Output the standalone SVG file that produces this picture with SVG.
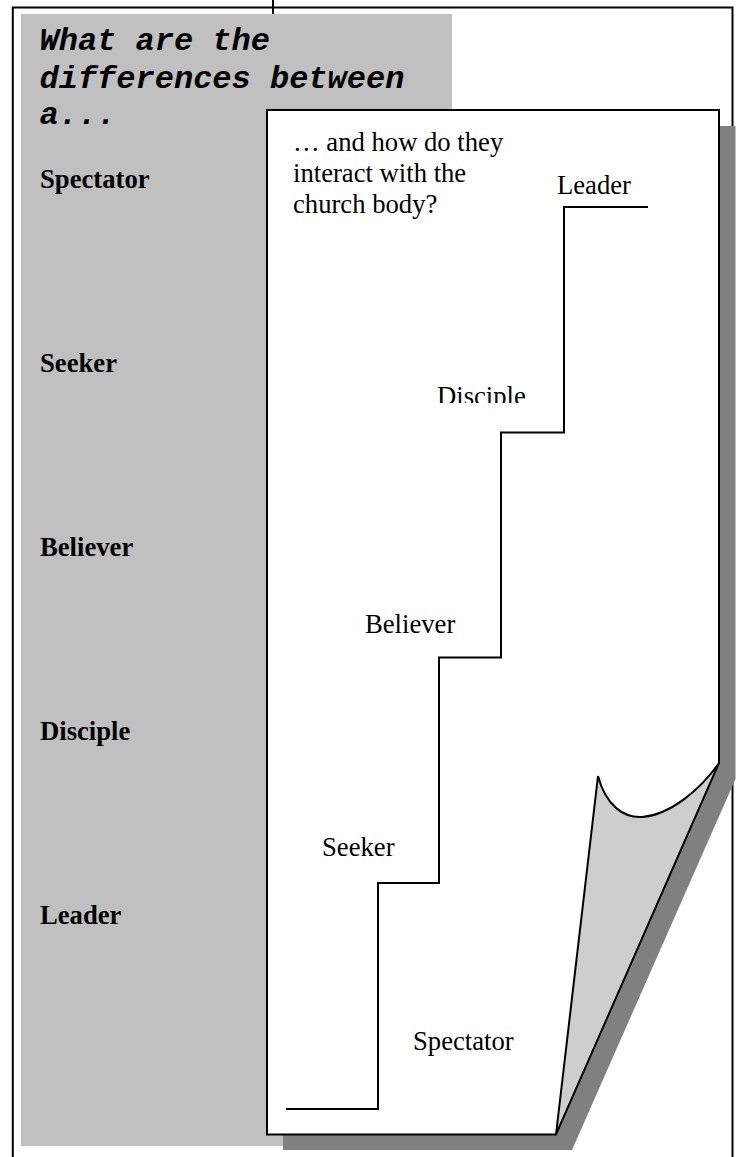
<svg xmlns="http://www.w3.org/2000/svg" width="736" height="1157" viewBox="0 0 736 1157">
<style>
.ln{fill:none;stroke:#000;stroke-width:2}
.t{font-family:"Liberation Serif",serif;font-size:26.67px;fill:#000}
.b{font-weight:bold}
.h{font-family:"Liberation Mono",monospace;font-size:32px;font-weight:bold;font-style:italic;fill:#000}
</style>
<defs><clipPath id="dc"><rect x="430" y="370" width="110" height="33"/></clipPath></defs>
<rect width="736" height="1157" fill="#fff"/>
<g id="frame"><path class="ln" d="M12.800 1157V7.500H732.500V130"/><path class="ln" d="M732.500 780V1157"/><path class="ln" d="M273 0V14"/></g>
<g id="left-panel">
<rect x="21" y="14" width="431" height="1132" fill="#c0c0c0"/>
<text class="h" x="39.500" y="50">What are the</text>
<text class="h" x="39.500" y="87.500">differences between</text>
<text class="h" x="39.500" y="124">a...</text>
<text class="t b" x="40" y="188">Spectator</text>
<text class="t b" x="40" y="372">Seeker</text>
<text class="t b" x="40" y="556">Believer</text>
<text class="t b" x="40" y="740">Disciple</text>
<text class="t b" x="40" y="924">Leader</text>
</g>
<g id="page">
<path d="M283 1150V126H735.500V779L572 1150Z" fill="#808080"/>
<path d="M267 1134.500V110H719V763L556 1134.500Z" fill="#fff"/>
<path d="M556 1134.500L598 776C606 806 624 818 642 817C670 815 700 790 719 763Z" fill="#cecece"/>
<path class="ln" d="M267 1134.500V110H719V763L556 1134.500ZM556 1134.500L598 776C606 806 624 818 642 817C670 815 700 790 719 763"/>
<text class="t" x="293" y="151">… and how do they</text>
<text class="t" x="293" y="182">interact with the</text>
<text class="t" x="293" y="213">church body?</text>
</g>
<g id="connectors"><path class="ln" d="M286 1109H378V883H439V657.500H501V432.500H564V207H648"/></g>
<g id="step-spectator"><text class="t" x="413" y="1050">Spectator</text></g>
<g id="step-seeker"><text class="t" x="322" y="856">Seeker</text></g>
<g id="step-believer"><text class="t" x="365" y="633">Believer</text></g>
<g id="step-disciple"><text class="t" x="437" y="404.500" clip-path="url(#dc)">Disciple</text></g>
<g id="step-leader"><text class="t" x="557" y="194">Leader</text></g>
</svg>
